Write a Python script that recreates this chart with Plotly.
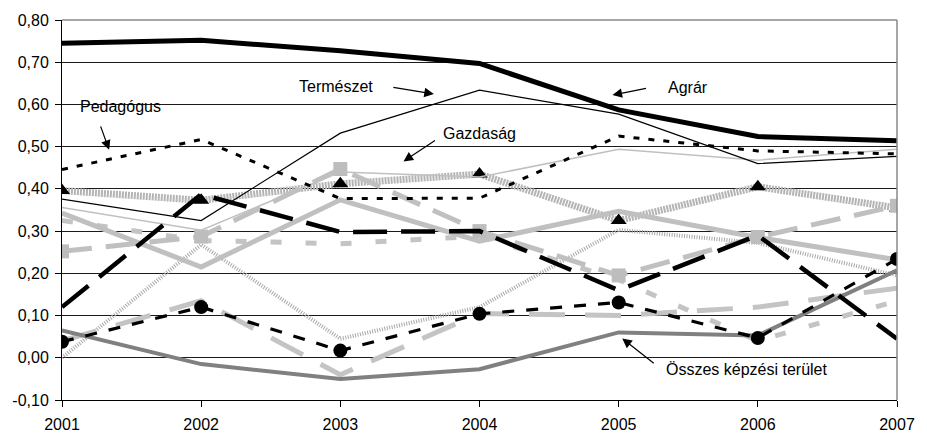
import plotly.graph_objects as go

years = [2001, 2002, 2003, 2004, 2005, 2006, 2007]

agrar = [0.745, 0.752, 0.727, 0.697, 0.587, 0.524, 0.514]
termeszet = [0.376, 0.325, 0.532, 0.634, 0.577, 0.460, 0.477]
pedagogus = [0.446, 0.517, 0.377, 0.378, 0.525, 0.490, 0.483]
gazdasag = [0.356, 0.302, 0.440, 0.428, 0.494, 0.468, 0.494]
haromszog = [0.396, 0.373, 0.412, 0.435, 0.325, 0.405, 0.355]
fekete_szagg = [0.120, 0.387, 0.298, 0.300, 0.160, 0.290, 0.045]
kor = [0.038, 0.120, 0.017, 0.104, 0.131, 0.047, 0.234]
negyzet = [0.252, 0.287, 0.447, 0.300, 0.195, 0.286, 0.360]
szurke = [0.343, 0.215, 0.374, 0.276, 0.347, 0.285, 0.232]
kockas = [0.000, 0.268, 0.045, 0.120, 0.303, 0.272, 0.195]
szurke_hosszu = [0.040, 0.135, -0.040, 0.105, 0.100, 0.120, 0.165]
szurke_rovid = [0.325, 0.278, 0.270, 0.288, 0.185, 0.040, 0.135]
osszes = [0.065, -0.015, -0.050, -0.027, 0.060, 0.053, 0.207]

y_ticks = [-0.1, 0.0, 0.1, 0.2, 0.3, 0.4, 0.5, 0.6, 0.7, 0.8]
y_labels = ["-0,10", "0,00", "0,10", "0,20", "0,30", "0,40", "0,50", "0,60", "0,70", "0,80"]

FONT = "Liberation Sans, Arial, sans-serif"

fig = go.Figure()

def add(y, name, color, width, dash="solid", marker=None):
    kw = dict(x=years, y=y, name=name, line=dict(color=color, width=width, dash=dash))
    if marker:
        kw["mode"] = "lines+markers"
        kw["marker"] = marker
    else:
        kw["mode"] = "lines"
    fig.add_trace(go.Scatter(**kw))

add(kockas, "Informatika", "#a8a8a8", 4, "1px,1.5px")
add(haromszog, "Bölcsész", "#b4b4b4", 7, "2px,1px",
    dict(symbol="triangle-up", size=14, color="black"))
add(szurke_rovid, "Sport", "#c4c4c4", 5, "11px,24px")
add(szurke_hosszu, "Művészet", "#c4c4c4", 5, "36px,20px")
add(szurke, "Műszaki", "#c0c0c0", 5)
add(negyzet, "Jogi", "#c0c0c0", 5, "30px,14px",
    dict(symbol="square", size=14, color="#bdbdbd"))
add(gazdasag, "Gazdaság", "#c0c0c0", 1.5)
add(osszes, "Összes képzési terület", "#808080", 4)
add(fekete_szagg, "Orvosi", "black", 4.5, "34px,14px")
add(kor, "Társadalomtud.", "black", 3.2, "12px,12px",
    dict(symbol="circle", size=14, color="black"))
add(pedagogus, "Pedagógus", "black", 3, "6px,9px")
add(termeszet, "Természet", "black", 1.2)
add(agrar, "Agrár", "black", 5)

W, H = 927, 445
L, R, T, B = 59, 17, 20, 30
pw, ph = W - L - R, H - T - B

def px(x, y):
    return (x - L) / pw, (H - B - y) / ph

annotations = []

def label(text, cx, cy):
    x, y = px(cx, cy)
    annotations.append(dict(text=text, x=x, y=y, xref="paper", yref="paper",
                            showarrow=False, font=dict(family=FONT, size=16, color="black"),
                            xanchor="center", yanchor="middle"))

def arrow(tx, ty, hx, hy):
    x, y = px(hx, hy)
    annotations.append(dict(text="", x=x, y=y, xref="paper", yref="paper",
                            showarrow=True, ax=tx - hx, ay=ty - hy,
                            arrowhead=2, arrowsize=1.6, arrowwidth=1.2, arrowcolor="black"))

label("Természet", 338, 89)
arrow(396, 90, 438, 97)
label("Agrár", 697, 90)
arrow(655, 91, 620, 98)
label("Pedagógus", 119, 110)
arrow(98, 130, 107, 155)
label("Gazdaság", 485, 138)
arrow(440, 145, 407, 167)
label("Összes képzési terület", 757, 383)
arrow(663, 377, 630, 351)

fig.update_layout(
    width=W, height=H, autosize=False,
    margin=dict(l=L, r=R, t=T, b=B, pad=0),
    plot_bgcolor="white", paper_bgcolor="white",
    showlegend=False,
    font=dict(family=FONT, size=16, color="black"),
    annotations=annotations,
    shapes=[
        dict(type="line", xref="paper", yref="paper", x0=0, x1=1, y0=1, y1=1,
             line=dict(color="#888888", width=1.5), layer="above"),
        dict(type="line", xref="paper", yref="paper", x0=1, x1=1, y0=0, y1=1,
             line=dict(color="#888888", width=1.5), layer="above"),
    ],
    xaxis=dict(
        range=[2001, 2007], tickvals=years, ticktext=[str(y) for y in years],
        showgrid=False, zeroline=False, showline=True, linecolor="black", linewidth=1,
        ticks="outside", ticklen=6, tickcolor="black", ticklabeloverflow="allow",
        ticklabelstandoff=4,
        tickfont=dict(family=FONT, size=16, color="black"),
    ),
    yaxis=dict(
        range=[-0.1, 0.8], tickvals=y_ticks, ticktext=y_labels,
        showgrid=True, gridcolor="#1a1a1a", gridwidth=1, zeroline=False,
        showline=True, linecolor="black", linewidth=1,
        ticks="outside", ticklen=6, tickcolor="black", ticklabelstandoff=3,
        tickfont=dict(family=FONT, size=16, color="black"),
    ),
)

fig.write_html("out.html", config={"responsive": False, "displayModeBar": False},
               post_script="document.body.style.margin='0';document.body.style.padding='0';")
